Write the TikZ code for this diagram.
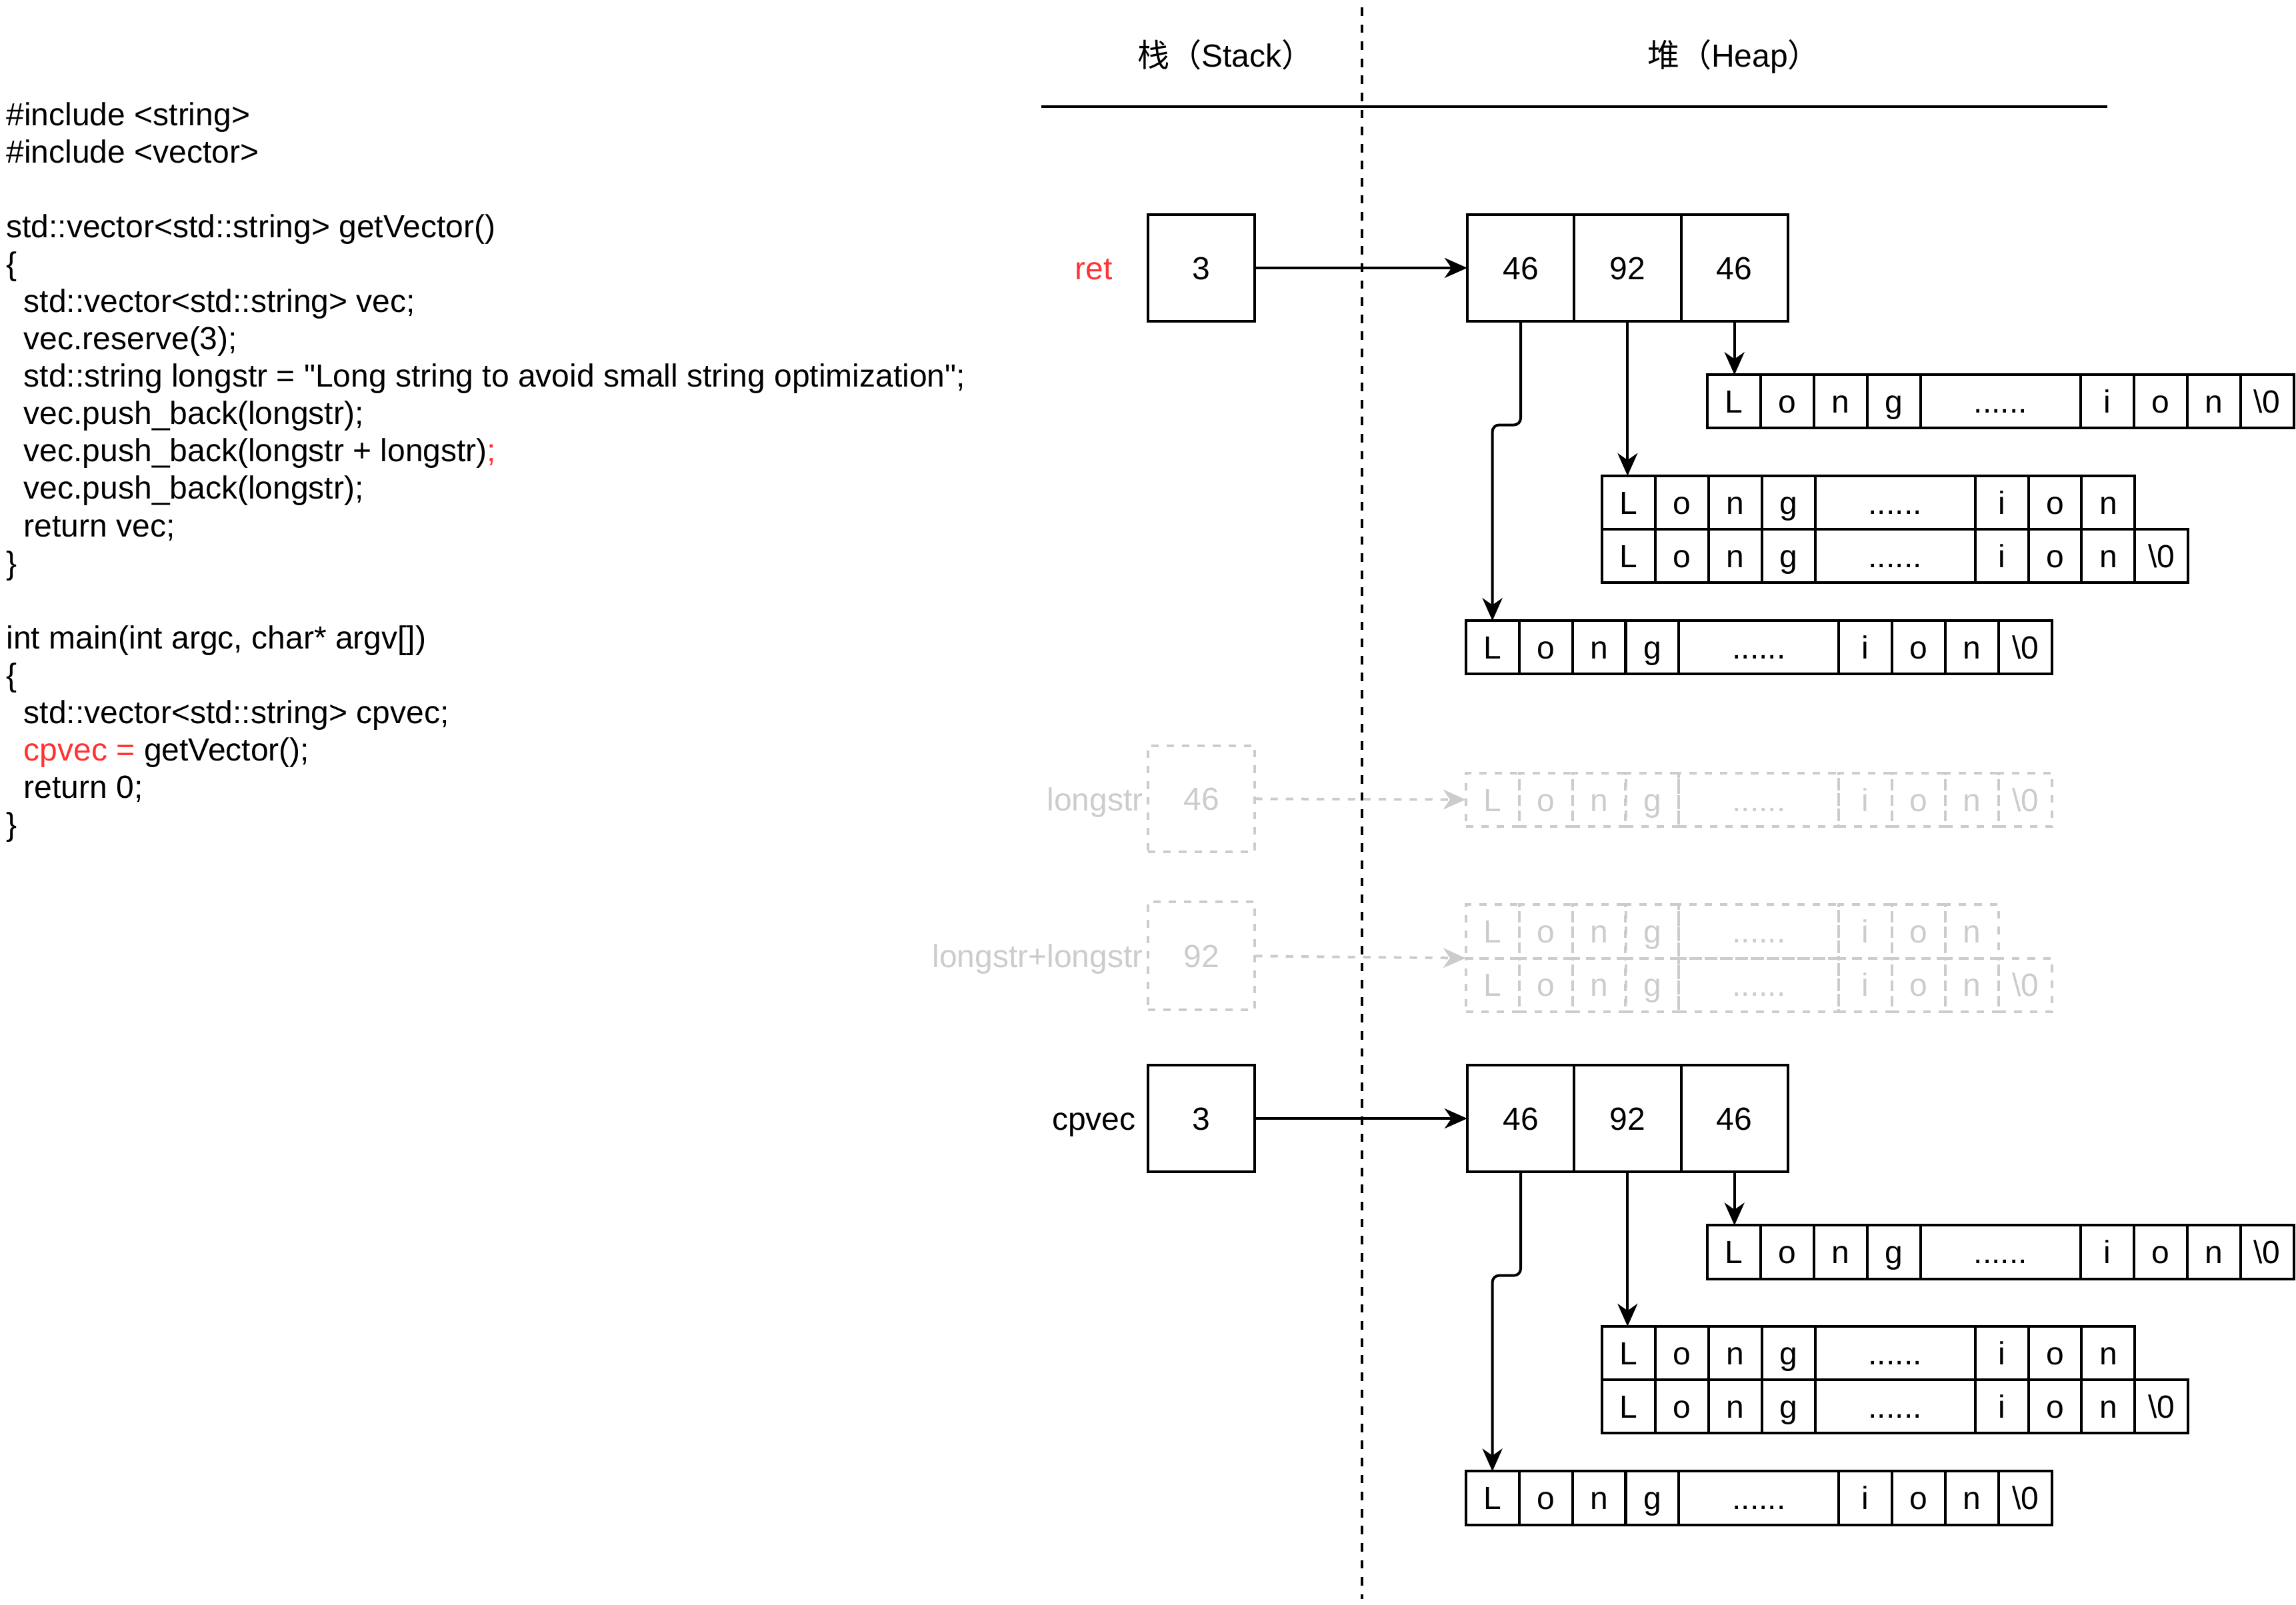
\documentclass[tikz,border=0pt]{standalone}
\usepackage{fontspec}
\setmainfont{Liberation Sans}
\newfontfamily\cjk{Noto Sans CJK SC}
\usetikzlibrary{arrows.meta}
\definecolor{redt}{HTML}{FF3333}
\definecolor{gry}{HTML}{CCCCCC}
\tikzset{
  cellbox/.style={draw, line width=1pt, inner sep=0pt, outer sep=0pt, minimum width=19.99pt, minimum height=20.04pt, text height=8.6pt, text depth=0pt, anchor=center},
  vbox/.style={draw, line width=1pt, inner sep=0pt, outer sep=0pt, minimum width=40.08pt, minimum height=39.8pt, text height=8.6pt, text depth=0pt},
  ghost/.style={draw=gry, text=gry, dash pattern=on 2.8pt off 3pt},
  codeline/.style={anchor=base west, inner sep=0pt},
  lbl/.style={inner sep=0pt, text height=8.6pt, text depth=0pt},
  arr/.style={line width=1pt, -{Stealth[length=8.5pt, width=7.5pt, inset=2.6pt]}},
  garr/.style={line width=1pt, draw=gry, dash pattern=on 2.8pt off 3pt, -{Stealth[length=8.5pt, width=7.5pt, inset=2.6pt]}},
}
% string row: #1 name, #2 left x, #3 top y, #4 extra style, #5 with \0 (1/0)
\newcommand\strrow[5]{%
  \foreach \ci/\of/\ch in {1/18.2/L, 2/54.6/o, 3/91.0/n, 4/127.4/g, 6/273.0/i, 7/309.4/o, 8/345.8/n}{
    \node[cellbox,#4] (#1-\ci) at (#2+\of, #3+18.25) {\ch};
  }
  \node[cellbox,#4,minimum width=59.97pt] (#1-5) at (#2+200.2, #3+18.25) {......};
  \ifnum#5=1 \node[cellbox,#4] (#1-9) at (#2+382.2, #3+18.25) {\textbackslash0};\fi
}
% vector group: #1 prefix, #2 y offset, #3 label, #4 label style
\newcommand\vecgroup[4]{%
  \node[lbl,#4] (#1-lbl) at (747, 183+#2) {#3};
  \node[vbox] (#1-s) at (820.5, 183+#2) {3};
  \node[vbox] (#1-v1) at (1038.5, 183+#2) {46};
  \node[vbox] (#1-v2) at (1111.5, 183+#2) {92};
  \node[vbox] (#1-v3) at (1184.5, 183+#2) {46};
  \strrow{#1-a}{1166}{256+#2}{}{1}
  \strrow{#1-b}{1094}{325+#2}{}{0}
  \strrow{#1-c}{1094}{361.5+#2}{}{1}
  \strrow{#1-d}{1001}{424+#2}{}{1}
  \draw[arr] (#1-s) -- (#1-v1);
  \draw[arr] (#1-v3.south) -- (#1-v3.south |- #1-a-1.north);
  \draw[arr] (#1-v2.south) -- (#1-v2.south |- #1-b-1.north);
  \draw[arr, rounded corners=2.5pt] (#1-v1.south) -- ++(0,71) -| (#1-d-1.north);
}
\begin{document}
\begin{tikzpicture}[x=0.5491pt, y=-0.5491pt, font=\fontsize{12pt}{14pt}\selectfont]
\useasboundingbox (0,0) rectangle (1568,1096);

% code
\node[codeline] (c0) at (4,86) {\#include <string>};
\node[codeline] (c1) at (4,111.5) {\#include <vector>};
\node[codeline] (c3) at (4,162.5) {std::vector<std::string> getVector()};
\node[codeline] (c4) at (4,188) {\{};
\node[codeline] (c5) at (16,213.5) {std::vector<std::string> vec;};
\node[codeline] (c6) at (16,239) {vec.reserve(3);};
\node[codeline] (c7) at (16,264.5) {std::string longstr = \textquotedbl Long string to avoid small string optimization\textquotedbl;};
\node[codeline] (c8) at (16,290) {vec.push\_back(longstr);};
\node[codeline] (c9) at (16,315.5) {vec.push\_back(longstr + longstr){\color{redt};}};
\node[codeline] (c10) at (16,341) {vec.push\_back(longstr);};
\node[codeline] (c11) at (16,366.5) {return vec;};
\node[codeline] (c12) at (4,392) {\}};
\node[codeline] (c14) at (4,443) {int main(int argc, char* argv[])};
\node[codeline] (c15) at (4,468.5) {\{};
\node[codeline] (c16) at (16,494) {std::vector<std::string> cpvec;};
\node[codeline] (c17) at (16,519.5) {{\color{redt}cpvec =} getVector();};
\node[codeline] (c18) at (16,545) {return 0;};
\node[codeline] (c19) at (4,570.5) {\}};

% headers
\node[lbl] (hstack) at (837,38) {{\cjk 栈（}Stack{\cjk ）}};
\node[lbl] (hheap) at (1184,38) {{\cjk 堆（}Heap{\cjk ）}};
\draw[line width=1pt] (711,73) -- (1439,73);
\draw[line width=1pt, dash pattern=on 3.2pt off 3.2pt] (930,5) -- (930,1092);

% groups
\vecgroup{top}{0}{ret}{text=redt}
\vecgroup{bot}{581}{cpvec}{}

% ghost temporaries
\node[lbl, text=gry, anchor=east] (gl1) at (781,546) {longstr};
\node[vbox, ghost] (gb1) at (820.5,545.5) {46};
\strrow{ge}{1001}{528}{ghost}{1}
\draw[garr] (gb1) -- (ge-1);
\node[lbl, text=gry, anchor=east] (gl2) at (781,653) {longstr+longstr};
\node[vbox, ghost, minimum height=40.6pt] (gb2) at (820.5,653) {92};
\strrow{gf}{1001}{618}{ghost}{0}
\strrow{gg}{1001}{654.5}{ghost}{1}
\draw[garr] (gb2.east) -- (gf-1.south west);
\end{tikzpicture}
\end{document}
